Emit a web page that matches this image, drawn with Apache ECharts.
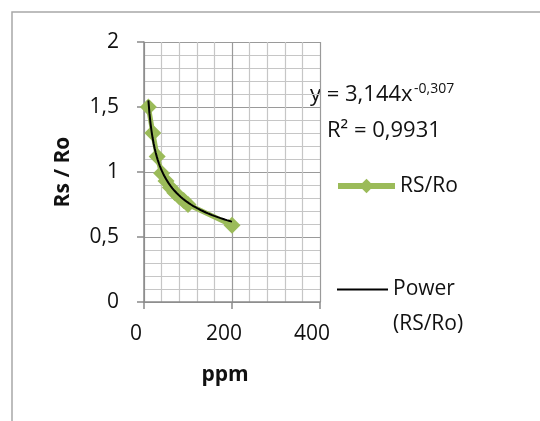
<!DOCTYPE html>
<html>
<head>
<meta charset="utf-8">
<script src="https://cdn.jsdelivr.net/npm/echarts@6/dist/echarts.min.js"></script>
<style>
html,body{margin:0;padding:0;background:#fff;}
#chart{width:540px;height:421px;}
</style>
</head>
<body>
<div id="chart"></div>
<script>
// Data
const ppm = [10, 20, 30, 40, 50, 60, 70, 80, 90, 100, 200];
const rsRo = [1.5, 1.3, 1.12, 0.99, 0.93, 0.88, 0.84, 0.81, 0.78, 0.75, 0.59];
// Power trendline coefficients shown on the chart: y = 3,144 x^-0,307
const trendA = 3.144;
const trendB = -0.307;
const trendSteps = 80;
const xTicks = [0, 200, 400];
const yTicks = [0, 0.5, 1, 1.5, 2];

const seriesData = ppm.map((x, i) => [x, rsRo[i]]);
const xMin = Math.min(...ppm), xMax = Math.max(...ppm);
const trendData = [];
for (let i = 0; i <= trendSteps; i++) {
  const x = xMin + (xMax - xMin) * i / trendSteps;
  trendData.push([x, trendA * Math.pow(x, trendB)]);
}

const FONT = 'Open Sans';
const chart = echarts.init(document.getElementById('chart'), null, {renderer: 'canvas'});
chart.setOption({
  animation: false,
  backgroundColor: '#fff',
  textStyle: {fontFamily: FONT},
  grid: {left: 144, top: 42, width: 176, height: 260},
  xAxis: {
    type: 'value', min: xTicks[0], max: xTicks[xTicks.length - 1], interval: 200,
    name: 'ppm', nameLocation: 'middle', nameGap: 63,
    nameTextStyle: {fontFamily: FONT, fontWeight: 'bold', fontSize: 21, color: '#111', padding: [0, 14, 0, 0]},
    axisLine: {show: true, lineStyle: {color: '#8a8a8a', width: 1.5}},
    axisTick: {show: true, inside: false, length: 7, lineStyle: {color: '#8a8a8a', width: 1.5}},
    axisLabel: {fontFamily: FONT, fontSize: 21, color: '#111', margin: 22, padding: [0, 16, 0, 0],
      formatter: v => String(v)},
    splitLine: {show: true, lineStyle: {color: '#9a9a9a', width: 1.2}},
    minorTick: {show: false, splitNumber: 5},
    minorSplitLine: {show: true, lineStyle: {color: '#c6c6c6', width: 1.2}}
  },
  yAxis: {
    type: 'value', min: yTicks[0], max: yTicks[yTicks.length - 1], interval: 0.5,
    name: 'Rs / Ro', nameLocation: 'middle', nameGap: 70, nameRotate: 90,
    nameTextStyle: {fontFamily: FONT, fontWeight: 'bold', fontSize: 21, color: '#111'},
    axisLine: {show: true, lineStyle: {color: '#8a8a8a', width: 1.5}},
    axisTick: {show: true, inside: false, length: 7, lineStyle: {color: '#8a8a8a', width: 1.5}},
    axisLabel: {fontFamily: FONT, fontSize: 21, color: '#111', margin: 25,
      formatter: v => String(v).replace('.', ',')},
    splitLine: {show: true, lineStyle: {color: '#9a9a9a', width: 1.2}},
    minorTick: {show: false, splitNumber: 5},
    minorSplitLine: {show: true, lineStyle: {color: '#c6c6c6', width: 1.2}}
  },
  legend: [
    {
      data: ['RS/Ro'], left: 335, top: 174, orient: 'vertical', padding: 0,
      itemWidth: 57, itemHeight: 18, itemGap: 2,
      lineStyle: {width: 6},
      textStyle: {fontFamily: FONT, fontSize: 21, color: '#111', lineHeight: 24}
    },
    {
      data: [{name: 'Power (RS/Ro)', icon: 'rect'}], left: 337, top: 237, orient: 'vertical', padding: 0,
      itemWidth: 51, itemHeight: 2, itemGap: 4,
      formatter: () => ' \nPower\n(RS/Ro)',
      textStyle: {fontFamily: FONT, fontSize: 21, color: '#111', lineHeight: 35}
    }
  ],
  series: [
    {
      name: 'RS/Ro', type: 'line', data: seriesData,
      symbol: 'diamond', symbolSize: 17,
      itemStyle: {color: '#9BBB59'},
      lineStyle: {color: '#9BBB59', width: 5},
      z: 2
    },
    {
      name: 'Power (RS/Ro)', type: 'line', data: trendData,
      symbol: 'none', smooth: false,
      itemStyle: {color: '#000'},
      lineStyle: {color: '#000', width: 2},
      z: 3
    }
  ],
  graphic: [
    {type: 'rect', shape: {x: 12, y: 12, width: 560, height: 440},
      style: {fill: 'none', stroke: '#a8a8a8', lineWidth: 1.5}, z: -1, silent: true},
    {type: 'text', left: 310, top: 84,
      style: {text: 'y = 3,144x', fontFamily: FONT, fontSize: 22, fill: '#111'}},
    {type: 'text', left: 414, top: 82,
      style: {text: '-0,307', fontFamily: FONT, fontSize: 14, fill: '#111'}},
    {type: 'text', left: 327, top: 120,
      style: {text: 'R² = 0,9931', fontFamily: FONT, fontSize: 22, fill: '#111'}}
  ]
});
</script>
</body>
</html>
